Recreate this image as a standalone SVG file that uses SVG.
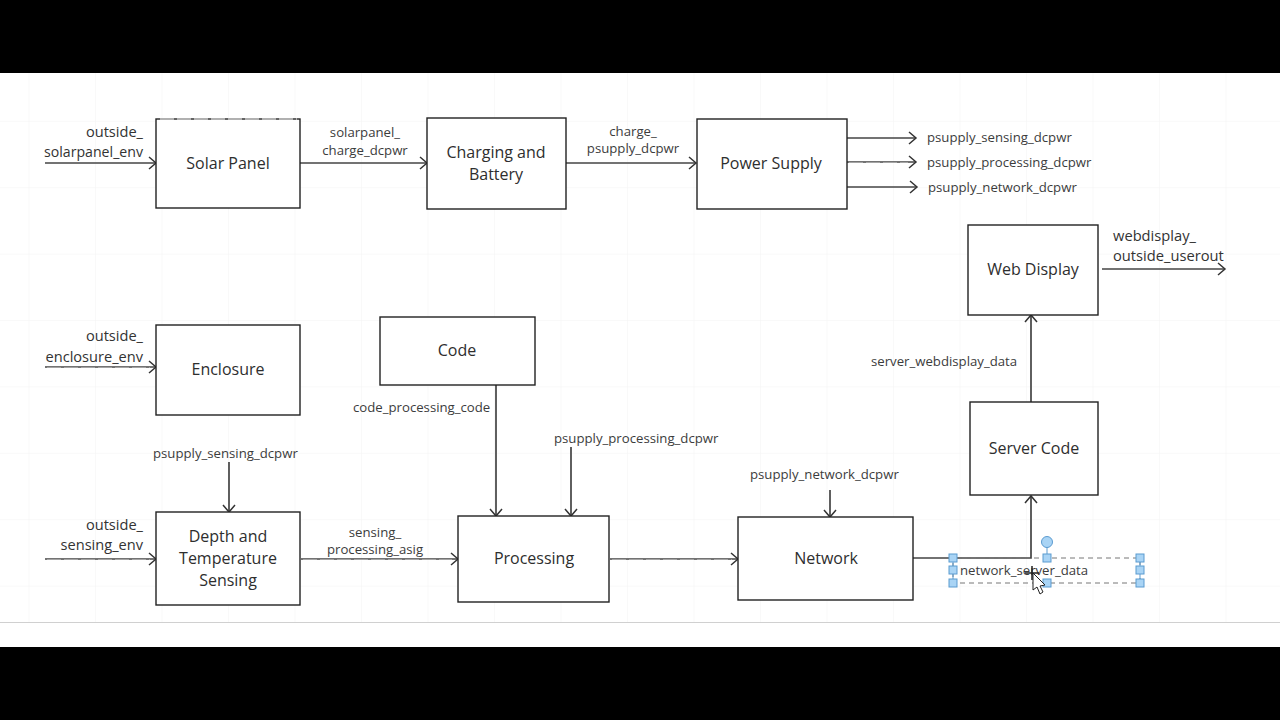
<svg xmlns="http://www.w3.org/2000/svg" width="1280" height="720" viewBox="0 0 1280 720">
<defs>
<marker id="arr" markerUnits="userSpaceOnUse" markerWidth="12" markerHeight="14" refX="10" refY="7" orient="auto"><path d="M3 1L10 7L3 13" fill="none" stroke="#333" stroke-width="1.5"/></marker>
<pattern id="grid" width="66.5" height="66.4" patternUnits="userSpaceOnUse" x="-37" y="-11"><path d="M66.5 0V66.4M0 66.4H66.5" fill="none" stroke="#f3f3f3" stroke-width="1"/></pattern>
</defs>
<style>
text{font-family:"Open Sans","Noto Sans","Liberation Sans",sans-serif;fill:#3c3c3c}
.n{font-size:16px;text-anchor:middle;fill:#2e2e2e}
.l{font-size:13.2px}
.m{font-size:13.2px;text-anchor:middle}
.e{font-size:14.6px;text-anchor:end;fill:#333}
.w{font-size:14.7px;fill:#333}
.box{fill:#fff;stroke:#222;stroke-width:1.4}
.c{fill:none;stroke:#444;stroke-width:1.7}
.a{marker-end:url(#arr)}
.d{fill:none;stroke:#fff;stroke-width:.7;stroke-dasharray:14 3}
.h{fill:#a9d4f5;stroke:#5b9bd0;stroke-width:1}
</style>
<rect width="1280" height="720" fill="#fff"/>
<rect y="73" width="1280" height="549" fill="url(#grid)"/>
<rect y="0" width="1280" height="73" fill="#000"/>
<rect y="622" width="1280" height="1" fill="#d0d0d0"/>
<rect y="647" width="1280" height="73" fill="#000"/>
<g id="connectors">
<path class="c a" d="M45 163H156"/>
<path class="c a" d="M300 163H427"/>
<path class="c a" d="M566 163H696"/>
<path class="c a" d="M847 138H916"/>
<path class="c a" d="M847 162H916"/>
<path class="c a" d="M847 187H917"/>
<path class="c a" d="M1102 269H1225"/>
<path class="c a" d="M45 367H156"/>
<path class="c a" d="M45 559H156"/>
<path class="c a" d="M229 462V512"/>
<path class="c a" d="M301 559H458"/>
<path class="c a" d="M496 385V516"/>
<path class="c a" d="M571 447V516"/>
<path class="c a" d="M610 559H738"/>
<path class="c a" d="M830 490V517"/>
<path class="c a" d="M913 558H1031V496"/>
<path class="c a" d="M1031 402V315"/>
<path class="d" d="M47 368H150M47 560H150M303 560H452M612 560H732M849 163H908"/>
</g>
<g id="solar-panel"><rect class="box" x="156" y="119" width="144" height="89"/><path d="M160 119H297" fill="none" stroke="#fff" stroke-width="1" stroke-dasharray="14 3"/><text class="n" x="228" y="169">Solar Panel</text></g>
<g id="charging"><rect class="box" x="427" y="118" width="139" height="91"/><text class="n" x="496" y="158">Charging and</text><text class="n" x="496" y="180">Battery</text></g>
<g id="power-supply"><rect class="box" x="697" y="119" width="150" height="90"/><text class="n" x="771" y="169">Power Supply</text></g>
<g id="web-display"><rect class="box" x="968" y="225" width="130" height="90"/><text class="n" x="1033" y="275">Web Display</text></g>
<g id="enclosure"><rect class="box" x="156" y="325" width="144" height="90"/><text class="n" x="228" y="375">Enclosure</text></g>
<g id="code"><rect class="box" x="380" y="317" width="155" height="68"/><text class="n" x="457" y="356">Code</text></g>
<g id="server-code"><rect class="box" x="970" y="402" width="128" height="93"/><text class="n" x="1034" y="454">Server Code</text></g>
<g id="sensing"><rect class="box" x="156" y="512" width="144" height="93"/><text class="n" x="228" y="542">Depth and</text><text class="n" x="228" y="564">Temperature</text><text class="n" x="228" y="586">Sensing</text></g>
<g id="processing"><rect class="box" x="458" y="516" width="151" height="86"/><text class="n" x="534" y="564">Processing</text></g>
<g id="network"><rect class="box" x="738" y="517" width="175" height="83"/><text class="n" x="826" y="564">Network</text></g>
<g id="labels">
<text class="e" x="143" y="137">outside_</text>
<text class="e" x="143" y="157" textLength="99" lengthAdjust="spacingAndGlyphs">solarpanel_env</text>
<text class="m" x="365" y="137">solarpanel_</text>
<text class="m" x="365" y="155">charge_dcpwr</text>
<text class="m" x="633" y="136">charge_</text>
<text class="m" x="633" y="153">psupply_dcpwr</text>
<text class="l" x="927" y="142">psupply_sensing_dcpwr</text>
<text class="l" x="927" y="167">psupply_processing_dcpwr</text>
<text class="l" x="928" y="192">psupply_network_dcpwr</text>
<text class="w" x="1113" y="241">webdisplay_</text>
<text class="w" x="1113" y="261">outside_userout</text>
<text class="e" x="143" y="341">outside_</text>
<text class="e" x="143" y="362">enclosure_env</text>
<text class="l" x="871" y="366">server_webdisplay_data</text>
<text class="l" x="353" y="412">code_processing_code</text>
<text class="l" x="554" y="443">psupply_processing_dcpwr</text>
<text class="l" x="153" y="458">psupply_sensing_dcpwr</text>
<text class="l" x="750" y="479">psupply_network_dcpwr</text>
<text class="e" x="143" y="530">outside_</text>
<text class="e" x="143" y="550">sensing_env</text>
<text class="m" x="375" y="537">sensing_</text>
<text class="m" x="375" y="554">processing_asig</text>
<text class="l" x="960" y="575">network_server_data</text>
</g>
<g id="selection">
<rect x="953" y="558" width="187" height="25" fill="none" stroke="#777" stroke-width="1" stroke-dasharray="5 4"/>
<path d="M1047 547V558M953 558V583M1140 558V583" stroke="#5b9bd0" fill="none"/>
<circle class="h" cx="1047" cy="542" r="5.5"/>
<rect class="h" x="949" y="554" width="8" height="8"/><rect class="h" x="1043" y="554" width="8" height="8"/><rect class="h" x="1136" y="554" width="8" height="8"/>
<rect class="h" x="949" y="566" width="8" height="8"/><rect class="h" x="1136" y="566" width="8" height="8"/>
<rect class="h" x="949" y="579" width="8" height="8"/><rect class="h" x="1043" y="579" width="8" height="8"/><rect class="h" x="1136" y="579" width="8" height="8"/>
<path d="M1033 573L1033 590L1037 587L1040 594L1043 592L1040 586L1045 585Z" fill="#fff" stroke="#222" stroke-width="1"/>
<path d="M1032 566V580M1025 573H1039" stroke="#222" stroke-width="1.5" fill="none"/>
</g>
</svg>
